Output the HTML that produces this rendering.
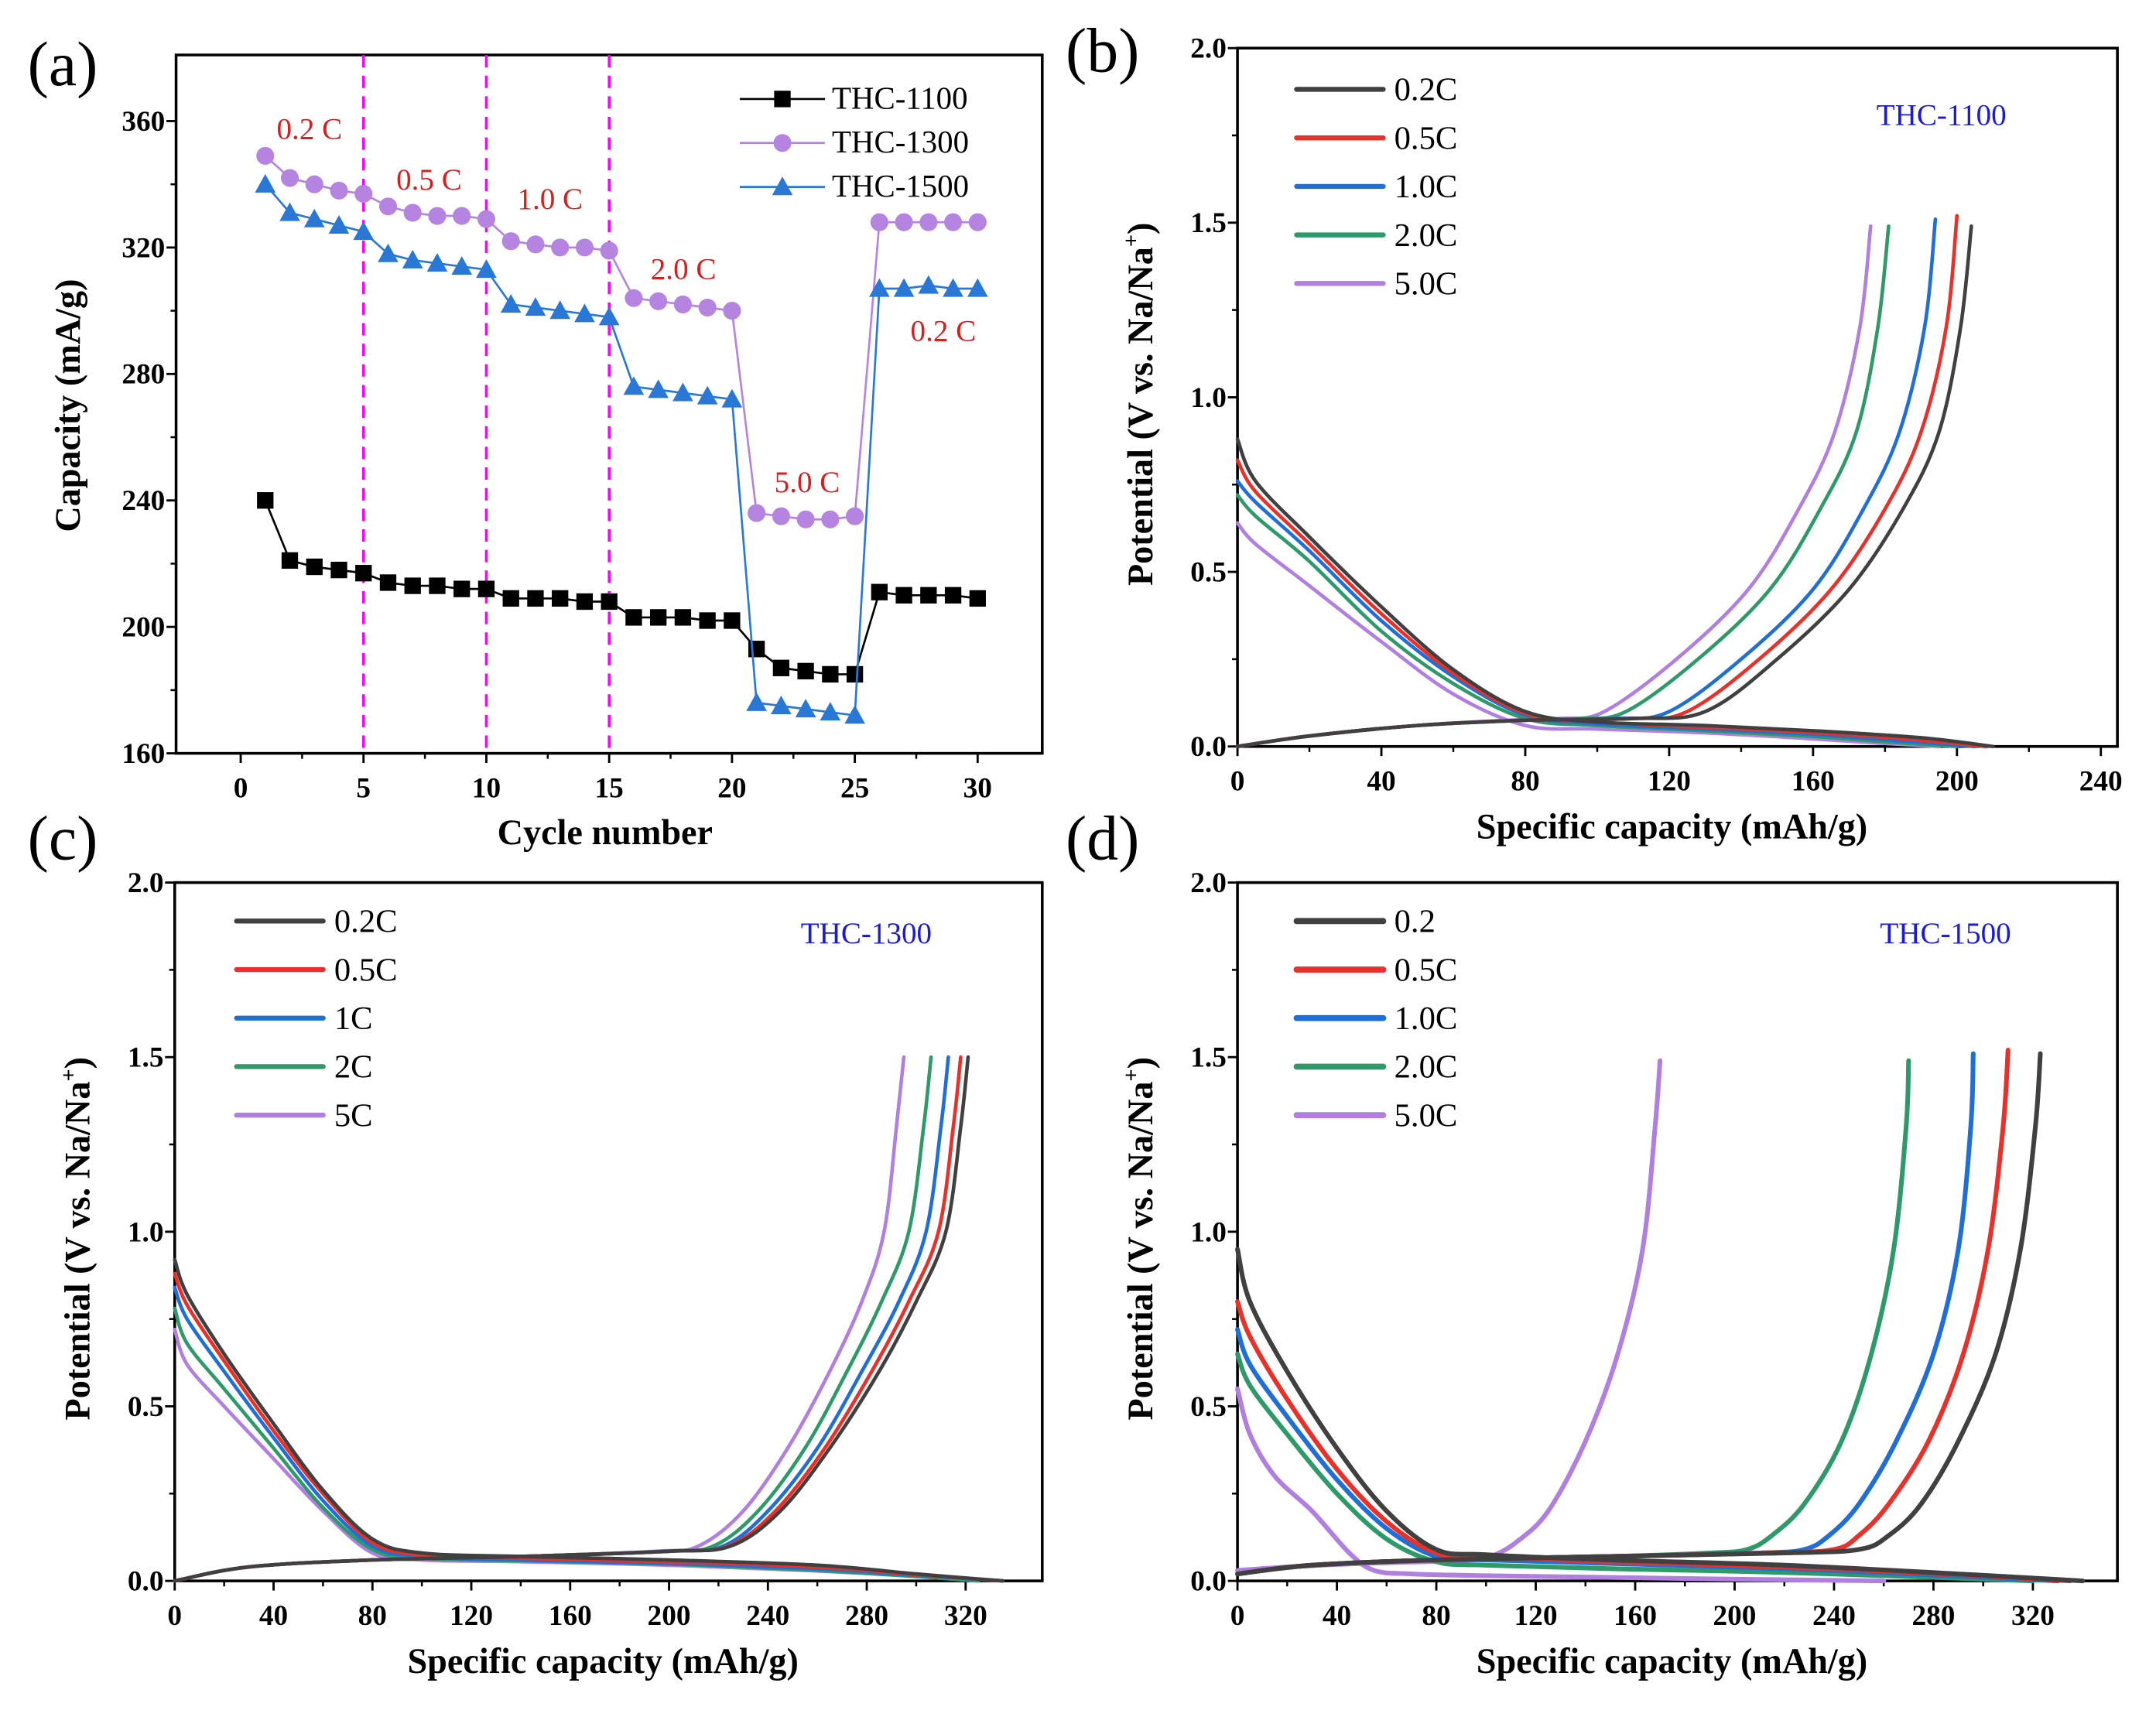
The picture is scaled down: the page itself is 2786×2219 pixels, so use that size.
<!DOCTYPE html>
<html><head><meta charset="utf-8">
<style>
html,body{margin:0;padding:0;background:#fff;}
svg{display:block;font-family:"Liberation Serif",serif;}
</style></head>
<body>
<svg id="fig" width="2786" height="2219" viewBox="0 0 1568 1249" xmlns="http://www.w3.org/2000/svg"></svg>
<script>
// ---------- Panel (a) data ----------
const cycles = [1,2,3,4,5,6,7,8,9,10,11,12,13,14,15,16,17,18,19,20,21,22,23,24,25,26,27,28,29,30];
const thc1100 = [240,221,219,218,217,214,213,213,212,212,209,209,209,208,208,203,203,203,202,202,193,187,186,185,185,211,210,210,210,209];
const thc1300 = [349,342,340,338,337,333,331,330,330,329,322,321,320,320,319,304,303,302,301,300,236,235,234,234,235,328,328,328,328,328];
const thc1500 = [340,331,329,327,325,318,316,315,314,313,302,301,300,299,298,276,275,274,273,272,176,175,174,173,172,307,307,308,307,307];
const aXTicks = [0,5,10,15,20,25,30];
const aYTicks = [160,200,240,280,320,360];
const rateDividers = [5,10,15];

// ---------- Panel (b) THC-1100 ----------
const bChgCap02 = [0,20,50,80,110,130,150,170,185,195,201,204];
const bChgCap05 = [0,20,50,80,110,125,145,165,180,190,197,200];
const bChgCap1 = [0,20,50,80,105,120,140,160,174,184,191,194];
const bChgCap2 = [0,20,50,80,95,108,128,148,162,172,178,181];
const bChgCap5 = [0,20,50,75,90,102,122,142,156,166,173,176];
const bChgV = [0,0.03,0.06,0.075,0.08,0.1,0.25,0.45,0.68,0.9,1.2,1.49];
const bChgV05 = [0,0.03,0.06,0.075,0.08,0.1,0.25,0.45,0.68,0.9,1.2,1.52];
const bChgV1 = [0,0.03,0.06,0.075,0.08,0.1,0.25,0.45,0.68,0.9,1.2,1.51];
const bDisCap02 = [0,5,20,40,60,80,100,130,160,190,210];
const bDisCap05 = [0,5,20,40,60,80,100,130,160,188,208];
const bDisCap1 = [0,5,20,40,60,80,100,130,160,186,205];
const bDisCap2 = [0,5,20,40,60,80,100,130,158,182,200];
const bDisCap5 = [0,5,20,40,60,80,100,128,155,178,195];
const bDisV02 = [0.88,0.76,0.6,0.4,0.22,0.1,0.07,0.06,0.045,0.025,0];
const bDisV05 = [0.82,0.73,0.58,0.38,0.21,0.095,0.07,0.055,0.04,0.02,0];
const bDisV1 = [0.76,0.7,0.56,0.36,0.2,0.09,0.065,0.05,0.035,0.015,0];
const bDisV2 = [0.72,0.66,0.53,0.33,0.18,0.08,0.06,0.045,0.03,0.012,0];
const bDisV5 = [0.64,0.58,0.46,0.3,0.15,0.06,0.05,0.04,0.025,0.01,0];

// ---------- Panel (c) THC-1300 ----------
const cChgCap02 = [0,30,80,140,200,225,245,265,285,300,312,318,321];
const cChgCap05 = [0,30,80,140,200,224,243,263,282,297,309,315,318];
const cChgCap1 = [0,30,80,140,200,222,240,260,278,293,304,310,313];
const cChgCap2 = [0,30,80,140,198,218,236,255,272,286,297,303,306];
const cChgCap5 = [0,30,80,140,195,212,230,248,265,278,287,292,295];
const cChgV = [0,0.04,0.06,0.07,0.085,0.1,0.2,0.38,0.6,0.8,1.0,1.3,1.5];
const cDisCap02 = [0,5,20,40,60,80,100,140,200,260,300,335];
const cDisCap5 = [0,5,20,40,60,80,100,140,200,255,295,325];
const cDisV02 = [0.92,0.82,0.65,0.45,0.26,0.12,0.08,0.07,0.06,0.045,0.02,0];
const cDisV05 = [0.88,0.79,0.63,0.43,0.25,0.11,0.075,0.065,0.055,0.04,0.018,0];
const cDisV1 = [0.84,0.75,0.6,0.41,0.23,0.1,0.07,0.06,0.05,0.035,0.016,0];
const cDisV2 = [0.78,0.68,0.55,0.38,0.21,0.09,0.065,0.058,0.048,0.032,0.015,0];
const cDisV5 = [0.72,0.62,0.5,0.35,0.2,0.08,0.06,0.055,0.045,0.03,0.015,0];

// ---------- Panel (d) THC-1500 ----------
const dChgCap02 = [0,30,80,150,220,250,262,275,290,305,315,321,323];
const dChgCap05 = [0,30,80,150,215,240,250,262,278,292,302,308,310];
const dChgCap1 = [0,30,80,150,210,228,238,250,265,280,290,295,296];
const dChgCap2 = [0,30,80,150,190,205,215,228,243,255,264,269,270];
const dChgCap5 = [0,20,50,75,95,102,112,125,140,153,163,168,170];
const dChgV02 = [0.02,0.045,0.06,0.07,0.08,0.09,0.13,0.22,0.4,0.65,0.95,1.3,1.51];
const dChgV05 = [0.02,0.045,0.06,0.07,0.08,0.09,0.13,0.22,0.4,0.65,0.95,1.3,1.52];
const dChgV2 = [0.02,0.045,0.06,0.07,0.08,0.09,0.13,0.22,0.4,0.65,0.95,1.3,1.49];
const dChgV5 = [0.03,0.04,0.05,0.055,0.06,0.07,0.11,0.2,0.4,0.65,0.95,1.3,1.49];
const dDisCap02 = [0,5,20,40,60,80,100,150,220,290,340];
const dDisCap05 = [0,5,20,40,60,80,100,150,220,290,335];
const dDisCap1 = [0,5,20,40,60,80,100,150,220,285,330];
const dDisCap2 = [0,5,20,40,60,80,100,150,215,280,320];
const dDisCap5 = [0,5,15,30,45,55,70,100,150,200,260];
const dDisV02 = [0.95,0.8,0.6,0.38,0.2,0.09,0.075,0.06,0.045,0.02,0];
const dDisV05 = [0.8,0.7,0.52,0.32,0.17,0.08,0.07,0.055,0.04,0.018,0];
const dDisV1 = [0.72,0.62,0.47,0.29,0.15,0.07,0.06,0.05,0.035,0.015,0];
const dDisV2 = [0.65,0.56,0.42,0.25,0.12,0.055,0.045,0.035,0.025,0.01,0];
const dDisV5 = [0.55,0.42,0.3,0.2,0.08,0.03,0.02,0.015,0.01,0.005,0];

const vTicks = [0,0.5,1.0,1.5,2.0];
const capTicksB = [0,40,80,120,160,200,240];
const capTicksCD = [0,40,80,120,160,200,240,280,320];
const rateColors = ['#404040','#e8312a','#1f6fd6','#2e9a6a','#b07fe0'];

const NS='http://www.w3.org/2000/svg';
const svg=document.getElementById('fig');
function el(tag,attrs,parent){const e=document.createElementNS(NS,tag);for(const k in attrs)e.setAttribute(k,attrs[k]);(parent||svg).appendChild(e);return e;}
function txt(s,attrs,parent){const t=el('text',attrs,parent);t.textContent=s;return t;}

function smooth(pts){
  if(pts.length<2)return '';
  let d='M'+pts[0][0].toFixed(2)+','+pts[0][1].toFixed(2);
  for(let i=0;i<pts.length-1;i++){
    const p0=pts[i-1]||pts[i],p1=pts[i],p2=pts[i+1],p3=pts[i+2]||p2;
    const c1=[p1[0]+(p2[0]-p0[0])/6,p1[1]+(p2[1]-p0[1])/6];
    const c2=[p2[0]-(p3[0]-p1[0])/6,p2[1]-(p3[1]-p1[1])/6];
    d+='C'+c1[0].toFixed(2)+','+c1[1].toFixed(2)+' '+c2[0].toFixed(2)+','+c2[1].toFixed(2)+' '+p2[0].toFixed(2)+','+p2[1].toFixed(2);
  }
  return d;
}

function axes(P,g){
  const box=el('rect',{x:P.l,y:P.t,width:P.r-P.l,height:P.b-P.t,fill:'none',stroke:'#000','stroke-width':2},g);
  
  
  P.xt.forEach(v=>{
    const x=P.sx(v);
    el('line',{x1:x,y1:P.b,x2:x,y2:P.b+7,stroke:'#000','stroke-width':1.6},g);
    const t=txt(String(v),{x:x,y:P.b+32,'text-anchor':'middle','font-size':21,'font-weight':'bold'},g);
    
    
  });
  for(let i=0;i<P.xt.length-1;i++){const x=P.sx((P.xt[i]+P.xt[i+1])/2);el('line',{x1:x,y1:P.b,x2:x,y2:P.b+4,stroke:'#000','stroke-width':1.4},g);}
  P.yt.forEach(v=>{
    const y=P.sy(v);
    el('line',{x1:P.l-7,y1:y,x2:P.l,y2:y,stroke:'#000','stroke-width':1.6},g);
    const t=txt(P.yfmt(v),{x:P.l-8,y:y+7,'text-anchor':'end','font-size':21,'font-weight':'bold'},g);
    
    
  });
  for(let i=0;i<P.yt.length-1;i++){const y=P.sy((P.yt[i]+P.yt[i+1])/2);el('line',{x1:P.l-4,y1:y,x2:P.l,y2:y,stroke:'#000','stroke-width':1.4},g);}
}

function mkPanel(l,r,t,b,x0,x1,y0,y1){
  return {l,r,t,b,sx:v=>l+(v-x0)/(x1-x0)*(r-l),sy:v=>b-(v-y0)/(y1-y0)*(b-t)};
}

// ===== Panel (a) =====
(function(){
  const g=el('g',{});
  
  
  const P=mkPanel(128,758,40,548,-2.63,32.63,160,380.9);
  P.xt=aXTicks;P.yt=aYTicks;P.yfmt=v=>String(v);
  axes(P,g);
  rateDividers.forEach(c=>{
    const ln=el('line',{x1:P.sx(c),y1:P.t,x2:P.sx(c),y2:P.b,stroke:'#ff00ff','stroke-width':2,'stroke-dasharray':'9,6'},g);
    
    
  });
  const series=[{d:thc1100,c:'#000',m:'sq',n:'thc-1100'},{d:thc1300,c:'#b484e0',m:'ci',n:'thc-1300'},{d:thc1500,c:'#2a78d6',m:'tr',n:'thc-1500'}];
  function marker(m,x,y,c,gg){
    if(m==='sq')return el('rect',{x:x-6,y:y-6,width:12,height:12,fill:c},gg);
    if(m==='ci')return el('circle',{cx:x,cy:y,r:6.5,fill:c},gg);
    return el('polygon',{points:`${x},${y-7.5} ${x-7.5},${y+6} ${x+7.5},${y+6}`,fill:c},gg);
  }
  series.forEach(s=>{
    const pts=cycles.map((c,i)=>P.sx(c).toFixed(2)+','+P.sy(s.d[i]).toFixed(2)).join(' ');
    const pl=el('polyline',{points:pts,fill:'none',stroke:s.c,'stroke-width':1.5},g);
    
    
    cycles.forEach((c,i)=>{
      const mk=marker(s.m,P.sx(c),P.sy(s.d[i]),s.c,g);
      
      
    });
  });
  const ly=[72,104,136],ln=['THC-1100','THC-1300','THC-1500'];
  series.forEach((s,i)=>{
    el('line',{x1:538,y1:ly[i],x2:600,y2:ly[i],stroke:s.c,'stroke-width':1.5},g);
    marker(s.m,569,ly[i],s.c,g);
    const t=txt(ln[i],{x:605,y:ly[i]+7,'font-size':23},g);
    
    
  });
  const ann=[['0.2 C',225,101],['0.5 C',312,138],['1.0 C',400,152],['2.0 C',497,203],['5.0 C',587,358],['0.2 C',686,248]];
  ann.forEach(a=>{const t=txt(a[0],{x:a[1],y:a[2],'text-anchor':'middle','font-size':22,fill:'#d42020'},g);});
  const xt=txt('Cycle number',{x:440,y:614,'text-anchor':'middle','font-size':26,'font-weight':'bold'},g);
  
  const yt=txt('Capacity (mA/g)',{x:0,y:0,transform:'translate(58,295) rotate(-90)','text-anchor':'middle','font-size':26,'font-weight':'bold'},g);
  
})();

// ===== GCD panels =====
function gcdPanel(o){
  const g=el('g',{});
  
  
  const P=mkPanel(o.l,o.r,o.t,o.b,0,o.xmax,0,2.0);
  P.xt=o.xt;P.yt=vTicks;P.yfmt=v=>v.toFixed(1);
  axes(P,g);
  o.curves.forEach((c,i)=>{
    const col=rateColors[c.k];
    [[c.dc,c.dv],[c.cc,c.cv]].forEach(([cap,v],j)=>{
      const pts=cap.map((x,n)=>[P.sx(x),P.sy(v[n])]);
      const p=el('path',{d:smooth(pts),fill:'none',stroke:col,'stroke-width':o.lw,'stroke-linecap':'round'},g);
      
      
    });
  });
  o.labels.forEach((lab,i)=>{
    const y=o.ly0+i*o.ldy;
    el('line',{x1:o.lx,y1:y,x2:o.lx+63,y2:y,stroke:rateColors[i],'stroke-width':o.lw+1,'stroke-linecap':'round'},g);
    const t=txt(lab,{x:o.lx+71,y:y+8,'font-size':24},g);
    
    
  });
  const tt=txt(o.title,{x:o.tx,y:o.ty,'text-anchor':'middle','font-size':22,fill:'#1a1adc'},g);
  
  const xt=txt('Specific capacity (mAh/g)',{x:(o.l+o.r)/2-4,y:o.b+67,'text-anchor':'middle','font-size':26,'font-weight':'bold'},g);
  
  const yt=el('text',{x:0,y:0,transform:`translate(${o.l-62},${(o.t+o.b)/2+5}) rotate(-90)`,'text-anchor':'middle','font-size':26,'font-weight':'bold'},g);
  yt.innerHTML='Potential (V vs. Na/Na<tspan dy="-10" font-size="16">+</tspan><tspan dy="10">)</tspan>';
  
}

gcdPanel({name:'panel-b-thc-1100',l:900,r:1540,t:35,b:543,xmax:244.6,xt:capTicksB,lw:2.6,
  labels:['0.2C','0.5C','1.0C','2.0C','5.0C'],lx:943,ly0:65,ldy:35.3,title:'THC-1100',tx:1412,ty:91,
  curves:[
    {k:4,dc:bDisCap5,dv:bDisV5,cc:bChgCap5,cv:bChgV},
    {k:3,dc:bDisCap2,dv:bDisV2,cc:bChgCap2,cv:bChgV},
    {k:2,dc:bDisCap1,dv:bDisV1,cc:bChgCap1,cv:bChgV1},
    {k:1,dc:bDisCap05,dv:bDisV05,cc:bChgCap05,cv:bChgV05},
    {k:0,dc:bDisCap02,dv:bDisV02,cc:bChgCap02,cv:bChgV}]});

gcdPanel({name:'panel-c-thc-1300',l:127,r:758,t:642,b:1150,xmax:351,xt:capTicksCD,lw:2.6,
  labels:['0.2C','0.5C','1C','2C','5C'],lx:172,ly0:670,ldy:35.3,title:'THC-1300',tx:630,ty:686,
  curves:[
    {k:4,dc:cDisCap5,dv:cDisV5,cc:cChgCap5,cv:cChgV},
    {k:3,dc:cDisCap5,dv:cDisV2,cc:cChgCap2,cv:cChgV},
    {k:2,dc:cDisCap02,dv:cDisV1,cc:cChgCap1,cv:cChgV},
    {k:1,dc:cDisCap02,dv:cDisV05,cc:cChgCap05,cv:cChgV},
    {k:0,dc:cDisCap02,dv:cDisV02,cc:cChgCap02,cv:cChgV}]});

gcdPanel({name:'panel-d-thc-1500',l:900,r:1540,t:642,b:1150,xmax:354,xt:capTicksCD,lw:3.4,
  labels:['0.2','0.5C','1.0C','2.0C','5.0C'],lx:943,ly0:670,ldy:35.3,title:'THC-1500',tx:1415,ty:686,
  curves:[
    {k:4,dc:dDisCap5,dv:dDisV5,cc:dChgCap5,cv:dChgV5},
    {k:3,dc:dDisCap2,dv:dDisV2,cc:dChgCap2,cv:dChgV2},
    {k:2,dc:dDisCap1,dv:dDisV1,cc:dChgCap1,cv:dChgV02},
    {k:1,dc:dDisCap05,dv:dDisV05,cc:dChgCap05,cv:dChgV05},
    {k:0,dc:dDisCap02,dv:dDisV02,cc:dChgCap02,cv:dChgV02}]});

[['(a)',20,62],['(b)',775,52],['(c)',20,625],['(d)',775,625]].forEach(p=>{
  const t=txt(p[0],{x:p[1],y:p[2],'font-size':46},svg);
  
  
});
</script>
</body></html>
